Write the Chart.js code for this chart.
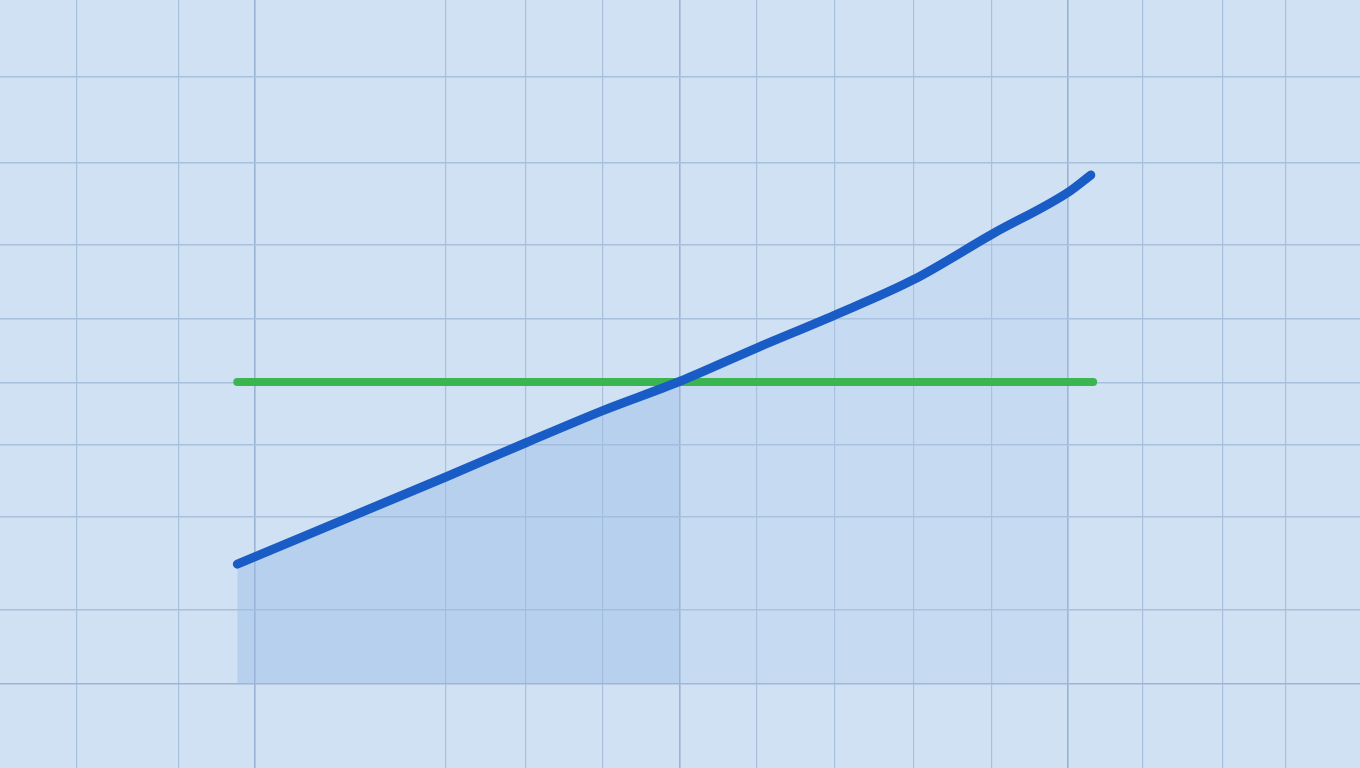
<!DOCTYPE html>
<html>
<head>
<meta charset="utf-8">
<script src="https://cdn.jsdelivr.net/npm/chart.js@4"></script>
<style>
  html, body { margin: 0; padding: 0; background: #cfe1f3; }
  #wrap { width: 1360px; height: 768px; position: relative; }
</style>
</head>
<body>
<div id="wrap"><canvas id="myChart"></canvas></div>
<script>
// Values (x in grid steps, y in tenths of a grid step)
const xValues = [0.31, 2.99, 4.02, 5.0, 6.0, 6.99, 7.99, 8.99, 10.01, 10.99, 11.28];
const trendValues = [15.4, 26.6, 31.0, 35.1, 38.9, 43.2, 47.4, 51.9, 57.8, 63.2, 65.4];
const targetX = [0.31, 11.31];
const targetValues = [38.8, 38.8];

// Grid line positions
const gridX = [-1.75, -0.45, 0.54, 2.99, 4.02, 5.0, 6.0, 6.99, 7.99, 9.0, 10.01, 10.99, 11.95, 12.97, 13.78];
const gridY = [0, 9.5, 21.5, 30.7, 38.7, 47.0, 56.4, 67.0, 78.0];
const strongX = [0.54, 6.0, 10.99];

const toPoints = (xs, ys) => xs.map((x, i) => ({ x: x, y: ys[i] }));
const trendPoints = toPoints(xValues, trendValues);

const ctx = document.getElementById('myChart');

new Chart(ctx, {
  type: 'line',
  data: {
    datasets: [
      {
        // blue trend line (on top)
        data: trendPoints,
        order: 0,
        borderColor: '#1a5cc6',
        borderWidth: 9,
        borderCapStyle: 'round',
        borderJoinStyle: 'round',
        pointRadius: 0,
        cubicInterpolationMode: 'monotone',
        fill: false
      },
      {
        // green reference line
        data: toPoints(targetX, targetValues),
        order: 1,
        borderColor: '#3bb54f',
        borderWidth: 8,
        borderCapStyle: 'round',
        pointRadius: 0,
        fill: false
      },
      {
        // darker shaded area, left part
        data: trendPoints.slice(0, 5),
        order: 2,
        borderWidth: 0,
        borderColor: 'rgba(0,0,0,0)',
        pointRadius: 0,
        cubicInterpolationMode: 'monotone',
        fill: 'origin',
        backgroundColor: 'rgba(150, 185, 228, 0.42)'
      },
      {
        // lighter shaded area, right part
        data: trendPoints.slice(4, 10),
        order: 3,
        borderWidth: 0,
        borderColor: 'rgba(0,0,0,0)',
        pointRadius: 0,
        cubicInterpolationMode: 'monotone',
        fill: 'origin',
        backgroundColor: 'rgba(170, 200, 236, 0.25)'
      }
    ]
  },
  options: {
    responsive: true,
    maintainAspectRatio: false,
    animation: false,
    layout: { padding: 0 },
    plugins: {
      legend: { display: false },
      tooltip: { enabled: false }
    },
    scales: {
      x: {
        type: 'linear',
        min: -2.74,
        max: 14.74,
        afterBuildTicks: scale => { scale.ticks = gridX.map(v => ({ value: v })); },
        ticks: { display: false },
        border: { display: false },
        grid: {
          drawTicks: false,
          color: c => strongX.includes(c.tick.value) ? '#9bb3d2' : '#a9c0dc',
          lineWidth: c => strongX.includes(c.tick.value) ? 1.6 : 1.2
        }
      },
      y: {
        type: 'linear',
        min: -10.8,
        max: 87.9,
        afterBuildTicks: scale => { scale.ticks = gridY.map(v => ({ value: v })); },
        ticks: { display: false },
        border: { display: false },
        grid: {
          drawTicks: false,
          color: c => c.tick.value === 0 ? '#9db4d3' : '#a9c0dc',
          lineWidth: 1.4
        }
      }
    }
  }
});
</script>
</body>
</html>
